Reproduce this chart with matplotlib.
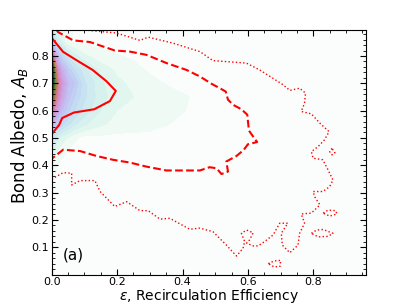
import numpy as np
import matplotlib
matplotlib.use("Agg")
import matplotlib.pyplot as plt
from matplotlib.ticker import MultipleLocator

eps_grid = [0, 0.005, 0.01, 0.02, 0.03, 0.05, 0.07, 0.1, 0.15, 0.2, 0.25, 0.3, 0.4, 0.5, 0.96]
alb_grid = [0, 0.2, 0.4, 0.45, 0.5, 0.55, 0.6, 0.65, 0.7, 0.75, 0.8, 0.85, 0.9]
dens = [
    [0.05, 0.05, 0.05, 0.05, 0.05, 0.05, 0.05, 0.05, 0.05, 0.05, 0.05, 0.05, 0.05, 0.05, 0.05],
    [0.2, 0.2, 0.18, 0.15, 0.15, 0.12, 0.12, 0.1, 0.1, 0.1, 0.1, 0.1, 0.1, 0.1, 0.05],
    [1.0, 0.8, 0.6, 0.45, 0.35, 0.25, 0.2, 0.15, 0.15, 0.15, 0.15, 0.15, 0.12, 0.1, 0.1],
    [1.8, 1.5, 1.2, 0.9, 0.7, 0.45, 0.3, 0.25, 0.2, 0.2, 0.2, 0.2, 0.15, 0.12, 0.1],
    [3.0, 2.5, 2.1, 1.6, 1.3, 0.9, 0.6, 0.3, 0.35, 0.35, 0.35, 0.35, 0.22, 0.15, 0.1],
    [5.5, 4.8, 4.2, 3.6, 3.2, 2.6, 2.1, 1.6, 1.1, 0.8, 0.72, 0.65, 0.4, 0.2, 0.1],
    [9.0, 7.5, 6.4, 5.3, 4.6, 3.6, 3.0, 2.3, 1.5, 1.0, 0.9, 0.75, 0.52, 0.28, 0.1],
    [15.0, 11.0, 8.8, 6.8, 5.6, 4.2, 3.5, 2.6, 1.7, 1.2, 1.0, 0.8, 0.55, 0.3, 0.1],
    [20.0, 15.0, 11.0, 7.8, 6.2, 4.6, 4.0, 2.6, 1.6, 1.1, 0.9, 0.6, 0.35, 0.25, 0.1],
    [19.0, 14.0, 9.5, 6.5, 5.2, 3.8, 3.0, 2.2, 1.3, 0.9, 0.6, 0.45, 0.3, 0.2, 0.1],
    [12.0, 8.0, 5.8, 4.2, 3.4, 2.3, 1.7, 1.1, 0.7, 0.52, 0.45, 0.38, 0.25, 0.15, 0.1],
    [5.0, 3.6, 2.8, 2.0, 1.5, 0.6, 0.45, 0.4, 0.35, 0.3, 0.25, 0.2, 0.15, 0.12, 0.1],
    [2.5, 2.0, 1.6, 1.2, 0.9, 0.6, 0.45, 0.35, 0.25, 0.2, 0.15, 0.12, 0.1, 0.1, 0.1],
]

# credible-region outlines
eps_inner = [0, 0.035, 0.078, 0.125, 0.167, 0.196, 0.178, 0.130, 0.068, 0.032, 0.023, 0]
alb_inner = [0.866, 0.815, 0.783, 0.749, 0.708, 0.672, 0.635, 0.605, 0.593, 0.573, 0.548, 0.514]

eps_mid = [0.015, 0.020, 0.066, 0.117, 0.193, 0.239, 0.290, 0.351, 0.412, 0.453, 0.489,
           0.514, 0.532, 0.539, 0.555, 0.580, 0.598, 0.603, 0.616, 0.628, 0.600, 0.587,
           0.565, 0.534, 0.539, 0.519, 0.504, 0.483, 0.453, 0.351, 0.290, 0.239, 0.188,
           0.137, 0.087, 0.035, 0]
alb_mid = [0.895, 0.887, 0.857, 0.851, 0.820, 0.816, 0.804, 0.774, 0.749, 0.725, 0.698,
           0.682, 0.670, 0.640, 0.621, 0.605, 0.585, 0.527, 0.505, 0.485, 0.477, 0.456,
           0.434, 0.414, 0.377, 0.368, 0.389, 0.393, 0.381, 0.381, 0.395, 0.410, 0.420,
           0.434, 0.452, 0.457, 0.424]

eps_outer = [0, 0.035, 0.061, 0.061, 0.087, 0.132, 0.148, 0.193, 0.229, 0.270, 0.295,
             0.331, 0.361, 0.422, 0.453, 0.493, 0.534, 0.565, 0.585, 0.590, 0.580, 0.596,
             0.616, 0.605, 0.596, 0.616, 0.631, 0.651, 0.677, 0.697, 0.722, 0.712, 0.702,
             0.705, 0.728, 0.753, 0.758, 0.773, 0.763, 0.794, 0.820, 0.804, 0.799, 0.829,
             0.850, 0.860, 0.845, 0.829, 0.799, 0.794, 0.814, 0.834, 0.848, 0.820, 0.794,
             0.763, 0.773, 0.776, 0.758, 0.728, 0.707, 0.636, 0.595, 0.493, 0.453, 0.371,
             0.295, 0.270, 0.198, 0.102]
alb_outer = [0.349, 0.373, 0.371, 0.328, 0.344, 0.344, 0.304, 0.249, 0.267, 0.234, 0.234,
             0.203, 0.206, 0.166, 0.170, 0.157, 0.108, 0.068, 0.096, 0.121, 0.151, 0.163,
             0.153, 0.127, 0.115, 0.105, 0.105, 0.121, 0.145, 0.188, 0.188, 0.170, 0.151,
             0.108, 0.080, 0.108, 0.151, 0.188, 0.222, 0.225, 0.255, 0.285, 0.304, 0.304,
             0.322, 0.346, 0.383, 0.420, 0.426, 0.450, 0.468, 0.493, 0.523, 0.554, 0.588,
             0.597, 0.627, 0.664, 0.682, 0.674, 0.695, 0.749, 0.774, 0.783, 0.816, 0.847,
             0.869, 0.857, 0.884, 0.895]

# small closed islands of the outer region
islands = [
    ([0.794, 0.810, 0.830, 0.860, 0.845, 0.815, 0.794], [0.151, 0.163, 0.165, 0.151, 0.140, 0.138, 0.151]),
    ([0.830, 0.845, 0.868, 0.872, 0.850, 0.830], [0.225, 0.236, 0.234, 0.222, 0.214, 0.225]),
    ([0.662, 0.680, 0.700, 0.698, 0.680, 0.662], [0.040, 0.050, 0.052, 0.030, 0.028, 0.040]),
    ([0.857, 0.850, 0.857, 0.866, 0.860, 0.857], [0.462, 0.450, 0.438, 0.446, 0.456, 0.462]),
]

fig = plt.figure(figsize=(4.07, 3.05), dpi=100)
ax = fig.add_axes([0.127, 0.0997, 0.7715, 0.8019])

ax.contourf(eps_grid, alb_grid, np.array(dens), levels=np.linspace(0, 20, 41), cmap="cubehelix_r")

ax.plot(eps_inner, alb_inner, color="red", lw=1.5, ls="-")
ax.plot(eps_mid, alb_mid, color="red", lw=1.5, ls="--")
ax.plot(eps_outer, alb_outer, color="red", lw=1.0, ls=":")
for ex, ay in islands:
    ax.plot(ex, ay, color="red", lw=1.0, ls=":")

ax.set_xlim(0, 0.96)
ax.set_ylim(0, 0.895)
ax.set_xticks([0.0, 0.2, 0.4, 0.6, 0.8])
ax.set_yticks([0.1, 0.2, 0.3, 0.4, 0.5, 0.6, 0.7, 0.8])
ax.xaxis.set_minor_locator(MultipleLocator(0.05))
ax.yaxis.set_minor_locator(MultipleLocator(0.02))
ax.tick_params(which="both", direction="in", top=True, right=True, labelsize=8)
ax.tick_params(which="major", length=4, pad=2)
ax.tick_params(which="minor", length=2)

ax.set_xlabel(r"$\varepsilon$, Recirculation Efficiency", fontsize=10)
ax.xaxis.set_label_coords(0.5, -0.05)
ax.set_ylabel(r"Bond Albedo, $A_B$", fontsize=12)
ax.yaxis.set_label_coords(-0.07, 0.57)
ax.text(0.035, 0.07, "(a)", fontsize=11, va="center")

fig.savefig("out.png", dpi=100)
